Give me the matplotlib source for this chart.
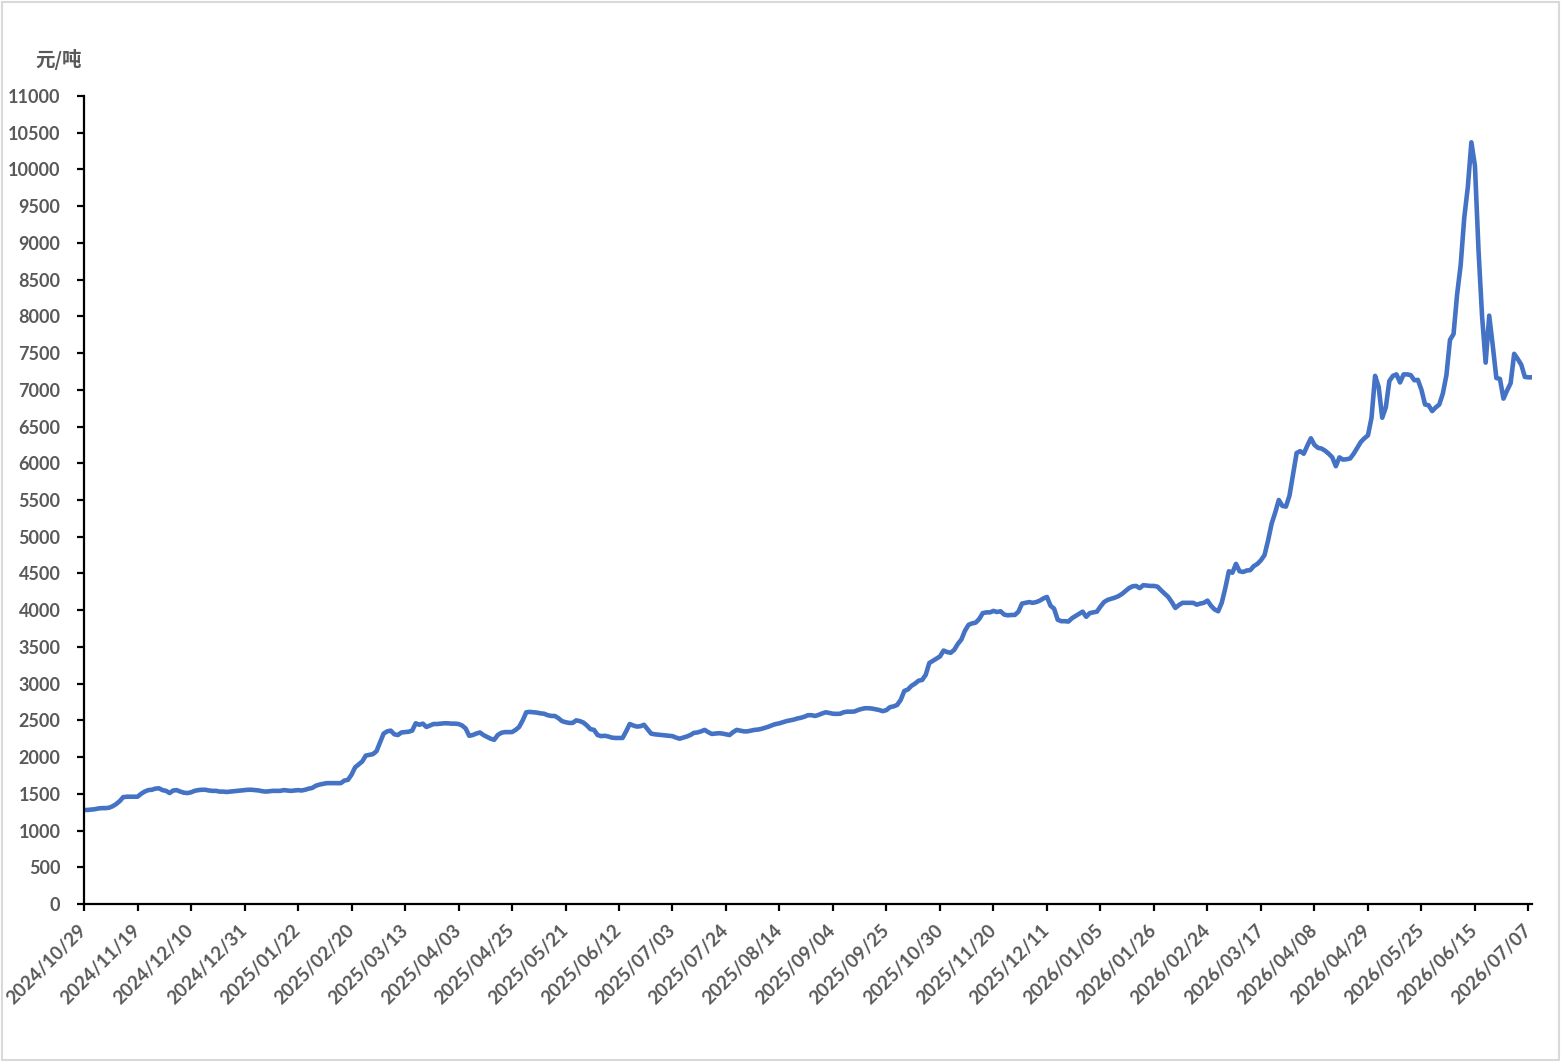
import matplotlib.pyplot as plt
import matplotlib.patches as patches
import matplotlib.transforms as mtransforms
import numpy as np

# daily price, 元/吨 (one value per trading day, ticks every 15 days)
price = [
    1280, 1280, 1285, 1290, 1300, 1305, 1305, 1310, 1330, 1360, 1400, 1455, 1460, 1460, 1460,
    1460, 1500, 1530, 1550, 1555, 1570, 1575, 1550, 1540, 1510, 1545, 1550, 1530, 1515, 1510,
    1520, 1540, 1550, 1555, 1555, 1545, 1540, 1540, 1530, 1530, 1525, 1530, 1535, 1540, 1545,
    1550, 1555, 1555, 1550, 1545, 1535, 1530, 1535, 1540, 1540, 1540, 1550, 1545, 1540, 1545,
    1550, 1545, 1555, 1570, 1580, 1610, 1625, 1635, 1645, 1645, 1645, 1645, 1645, 1680, 1690,
    1760, 1860, 1900, 1940, 2020, 2030, 2040, 2080, 2200, 2320, 2350, 2360, 2310, 2300, 2335,
    2340, 2345, 2360, 2460, 2440, 2455, 2410, 2430, 2450, 2450, 2455, 2460, 2460, 2455, 2455,
    2450, 2430, 2390, 2290, 2300, 2320, 2335, 2300, 2275, 2250, 2235, 2300, 2330, 2340, 2340,
    2340, 2370, 2410, 2500, 2610, 2615, 2610, 2605, 2595, 2590, 2570, 2560, 2560, 2530, 2490,
    2475, 2465, 2465, 2500, 2490, 2470, 2430, 2380, 2370, 2300, 2285, 2290, 2280, 2265, 2260,
    2260, 2260, 2350, 2450, 2430, 2415, 2420, 2440, 2380, 2320, 2310, 2305, 2300, 2295, 2290,
    2285, 2265, 2250, 2265, 2280, 2300, 2330, 2335, 2350, 2370, 2340, 2315, 2320, 2325, 2320,
    2310, 2300, 2340, 2370, 2360, 2350, 2350, 2360, 2370, 2375, 2385, 2400, 2415, 2435, 2450,
    2460, 2475, 2490, 2500, 2510, 2525, 2535, 2550, 2570, 2570, 2560, 2575, 2595, 2610, 2600,
    2590, 2588, 2590, 2610, 2618, 2618, 2620, 2640, 2655, 2665, 2665, 2660, 2650, 2640, 2625,
    2640, 2680, 2690, 2710, 2780, 2900, 2920, 2970, 3000, 3040, 3050, 3120, 3280, 3310, 3340,
    3370, 3450, 3430, 3420, 3460, 3540, 3600, 3720, 3800, 3820, 3830, 3880, 3960, 3970, 3970,
    3990, 3975, 3985, 3940, 3930, 3935, 3935, 3980, 4090, 4100, 4110, 4100, 4110, 4130, 4160,
    4180, 4060, 4020, 3870, 3850, 3850, 3845, 3890, 3920, 3950, 3980, 3910, 3960, 3970, 3980,
    4050, 4110, 4140, 4155, 4170, 4190, 4220, 4260, 4300, 4325, 4330, 4300, 4340, 4335, 4330,
    4330, 4320, 4270, 4225, 4180, 4110, 4030, 4070, 4100, 4100, 4100, 4100, 4075, 4090, 4100,
    4130, 4060, 4010, 3985, 4100, 4300, 4530, 4510, 4630, 4530, 4520, 4540, 4545, 4600, 4630,
    4680, 4750, 4950, 5180, 5330, 5500, 5420, 5410, 5560, 5850, 6140, 6165, 6130, 6240, 6340,
    6250, 6210, 6200, 6170, 6130, 6080, 5960, 6080, 6050, 6055, 6065, 6130, 6210, 6290, 6340,
    6380, 6620, 7190, 7040, 6620, 6760, 7120, 7190, 7210, 7100, 7210, 7210, 7200, 7130, 7135,
    7000, 6800, 6790, 6710, 6760, 6800, 6950, 7200, 7680, 7760, 8300, 8700, 9340, 9760, 10370,
    10050, 8900, 8000, 7370, 8010, 7600, 7160, 7150, 6880, 6990, 7090, 7490, 7420, 7340, 7175,
    7170, 7170,
]

date_labels = [
    "2024/10/29", "2024/11/19", "2024/12/10", "2024/12/31", "2025/01/22", "2025/02/20",
    "2025/03/13", "2025/04/03", "2025/04/25", "2025/05/21", "2025/06/12", "2025/07/03",
    "2025/07/24", "2025/08/14", "2025/09/04", "2025/09/25", "2025/10/30", "2025/11/20",
    "2025/12/11", "2026/01/05", "2026/01/26", "2026/02/24", "2026/03/17", "2026/04/08",
    "2026/04/29", "2026/05/25", "2026/06/15", "2026/07/07",
]
label_step = 15
unit = "元/吨"

gray = "#595959"
x = np.arange(len(price))

fig = plt.figure(figsize=(15.62, 10.61), dpi=100)
ax = fig.add_axes([0.0538, 0.148, 0.9270, 0.7615])

ax.plot(x, price, color="#4472C4", linewidth=3.3, solid_joinstyle="round")

ax.set_xlim(0, len(price) - 1)
ax.set_ylim(0, 11000)
ax.set_yticks(np.arange(0, 11001, 500))
ax.set_yticklabels([str(v) for v in range(0, 11001, 500)],
                   fontfamily="Lato", fontweight="bold", fontsize=13, color=gray)

ax.set_xticks(np.arange(len(date_labels)) * label_step)
ax.set_xticklabels(date_labels, rotation=45, ha="right", va="center", rotation_mode="anchor",
                   fontfamily="Lato", fontweight="bold", fontsize=13.5, color=gray)
# nudge the slanted dates a little to the right, as in the source chart
shift = mtransforms.ScaledTranslation(0.07, 0, fig.dpi_scale_trans)
for lab in ax.get_xticklabels():
    lab.set_transform(lab.get_transform() + shift)

for s in ["top", "right"]:
    ax.spines[s].set_visible(False)
for s in ["left", "bottom"]:
    ax.spines[s].set_linewidth(1.6)
    ax.spines[s].set_color("black")

ax.tick_params(axis="y", direction="out", length=5, width=1.6, pad=12)
ax.tick_params(axis="x", direction="out", length=5, width=1.6, pad=12)

fig.text(0.0375, 0.944, unit, fontfamily=["Noto Sans CJK SC", "DejaVu Sans"],
         fontsize=14, fontweight="bold", color=gray, ha="center", va="center")

# light frame around the chart area
fig.patches.append(patches.Rectangle((0.001, 0.001), 0.997, 0.997, transform=fig.transFigure,
                                     fill=False, edgecolor="#D9D9D9", linewidth=1.5))

fig.savefig("out.png", dpi=100)
